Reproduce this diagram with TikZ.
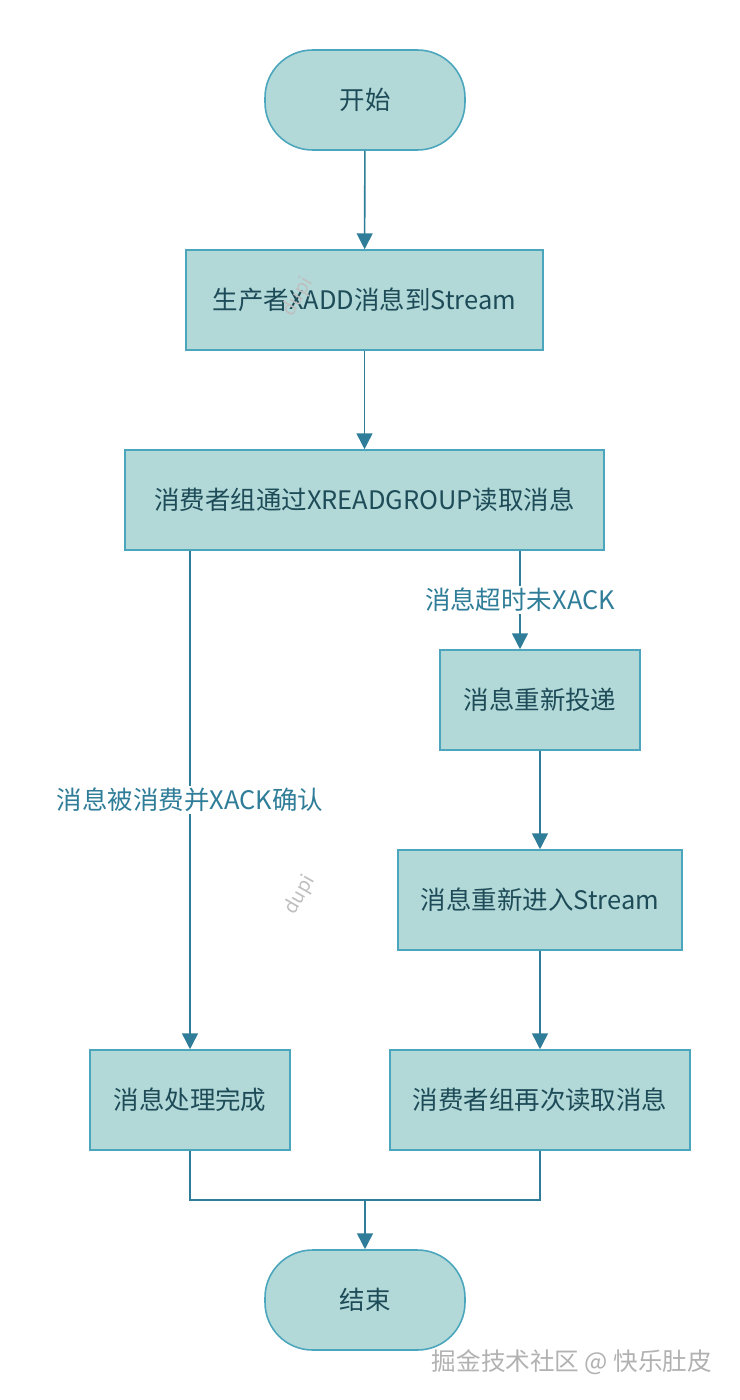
\documentclass[tikz,border=0pt]{standalone}
\usepackage{fontspec}
\setmainfont{Noto Sans CJK SC}
\usetikzlibrary{arrows.meta}
\definecolor{boxfill}{HTML}{B2D9D8}
\definecolor{boxline}{HTML}{4BA6BD}
\definecolor{flow}{HTML}{2F7D98}
\definecolor{ink}{HTML}{1E4B58}
\tikzset{
  proc/.style={draw=boxline, fill=boxfill, line width=0.9pt, minimum height=2cm,
    text=ink, font=\fontsize{14.5}{16}\selectfont},
  term/.style={proc, rounded corners=0.95cm, minimum width=4cm},
  flowline/.style={draw=flow, line width=0.9pt},
  flowarrow/.style={flowline, -{Triangle[length=9pt,width=9pt]}},
  lbl/.style={text=flow, fill=white, font=\fontsize{14.5}{16}\selectfont, inner sep=1pt}
}
\begin{document}
\begin{tikzpicture}[x=0.02cm, y=-0.02cm]
  \useasboundingbox[fill=white] (0,0) rectangle (740,1400);

  % 节点
  \node[term] (start) at (365,100) {开始};
  \node[proc, minimum width=7.14cm] (produce) at (364.5,300) {生产者XADD消息到Stream};
  \node[proc, minimum width=9.58cm] (readgrp) at (364.5,500) {消费者组通过XREADGROUP读取消息};
  \node[proc, minimum width=4cm] (redeliver) at (540,700) {消息重新投递};
  \node[proc, minimum width=5.68cm] (reenter) at (540,900) {消息重新进入Stream};
  \node[proc, minimum width=6cm] (reread) at (540,1100) {消费者组再次读取消息};
  \node[proc, minimum width=4cm] (done) at (190,1100) {消息处理完成};
  \node[term] (finish) at (365,1300) {结束};

  % 连线
  \draw[flowarrow] (start) -- (produce);
  \draw[flowarrow] (produce) -- (readgrp);
  \draw[flowarrow] (readgrp.south -| done.north) -- node[lbl, pos=0.5] {消息被消费并XACK确认} (done.north);
  \draw[flowarrow] (readgrp.south -| 520,0) -- node[lbl, pos=0.5] {消息超时未XACK} (redeliver.north -| 520,0);
  \draw[flowarrow] (redeliver) -- (reenter);
  \draw[flowarrow] (reenter) -- (reread);
  \coordinate (join) at (365,1200);
  \draw[flowline] (done.south) |- (join) -| (reread.south);
  \draw[flowarrow] (join) -- (finish);

  % 水印
  \node[text=black!25, rotate=60, font=\fontsize{11}{13}\selectfont] (wm1) at (298,297) {dupi};
  \node[text=black!25, rotate=60, font=\fontsize{11}{13}\selectfont] (wm2) at (300,895) {dupi};
  \node[text=black!30, font=\fontsize{14}{16}\selectfont] (wm3) at (572,1362) {掘金技术社区 @ 快乐肚皮};
\end{tikzpicture}
\end{document}
